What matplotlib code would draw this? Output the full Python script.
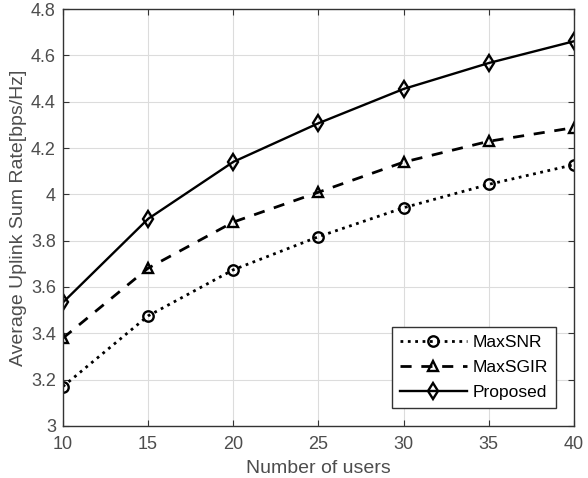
import matplotlib.pyplot as plt

plt.rcParams['font.family'] = ['Liberation Sans', 'DejaVu Sans']

users = [10, 15, 20, 25, 30, 35, 40]
max_snr = [3.17, 3.475, 3.674, 3.817, 3.942, 4.043, 4.128]
max_sgir = [3.379, 3.681, 3.88, 4.009, 4.139, 4.229, 4.288]
proposed = [3.533, 3.894, 4.14, 4.307, 4.455, 4.567, 4.661]
yticks = [3, 3.2, 3.4, 3.6, 3.8, 4, 4.2, 4.4, 4.6, 4.8]
ytick_labels = ['3', '3.2', '3.4', '3.6', '3.8', '4', '4.2', '4.4', '4.6', '4.8']

fig = plt.figure(figsize=(5.88, 4.78), dpi=100)
ax = fig.add_axes([0.107, 0.109, 0.869, 0.872])

ax.plot(users, max_snr, color='black', linestyle=':', linewidth=2.0, marker='o',
        markersize=7.5, markerfacecolor='none', markeredgewidth=1.7, label='MaxSNR')
ax.plot(users, max_sgir, color='black', linestyle=(0, (4, 3.5)), linewidth=2.0, marker='^',
        markersize=7.5, markerfacecolor='none', markeredgewidth=1.7, label='MaxSGIR')
ax.plot(users, proposed, color='black', linestyle='-', linewidth=1.7, marker='d',
        markersize=8.5, markerfacecolor='none', markeredgewidth=1.7, label='Proposed')

ax.set_xlim(10, 40)
ax.set_ylim(3, 4.8)
ax.set_xticks(users)
ax.set_yticks(yticks)
ax.set_yticklabels(ytick_labels)
ax.grid(True, color='#dcdcdc', linewidth=0.8)
ax.tick_params(direction='in', top=True, right=True, labelsize=13,
               labelcolor='#4d4d4d', length=4, color='#333333')
ax.tick_params(axis='x', pad=7)
ax.tick_params(axis='y', pad=5)
for s in ax.spines.values():
    s.set_color('#333333')
    s.set_linewidth(1.0)

ax.set_xlabel('Number of users', fontsize=14, color='#4d4d4d', labelpad=5)
ax.set_ylabel('Average Uplink Sum Rate[bps/Hz]', fontsize=14, color='#4d4d4d', labelpad=3)

leg = ax.legend(loc='lower right', fontsize=12.5, fancybox=False, framealpha=1,
                edgecolor='#333333', handlelength=3.9, borderaxespad=1.05,
                handletextpad=0.3, labelspacing=0.55, borderpad=0.45)
leg.get_frame().set_linewidth(1.0)

fig.savefig('out.png', dpi=100)
